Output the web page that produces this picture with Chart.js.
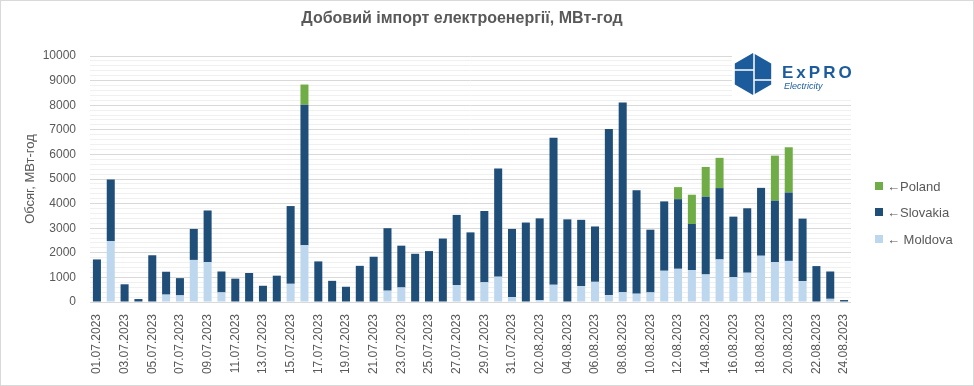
<!DOCTYPE html>
<html>
<head>
<meta charset="utf-8">
<script src="https://cdn.jsdelivr.net/npm/chart.js@4"></script>
<style>
    html, body { margin: 0; padding: 0; background: #fff; }
    #wrap { width: 972px; height: 384px; border: 1px solid #d9d9d9; position: relative; }
</style>
</head>
<body>
<div id="wrap"><canvas id="importChart"></canvas></div>
<script>
// --- DATA ---
const dates = [
    '01.07.2023', '02.07.2023', '03.07.2023', '04.07.2023', '05.07.2023', '06.07.2023', '07.07.2023',
    '08.07.2023', '09.07.2023', '10.07.2023', '11.07.2023', '12.07.2023', '13.07.2023', '14.07.2023',
    '15.07.2023', '16.07.2023', '17.07.2023', '18.07.2023', '19.07.2023', '20.07.2023', '21.07.2023',
    '22.07.2023', '23.07.2023', '24.07.2023', '25.07.2023', '26.07.2023', '27.07.2023', '28.07.2023',
    '29.07.2023', '30.07.2023', '31.07.2023', '01.08.2023', '02.08.2023', '03.08.2023', '04.08.2023',
    '05.08.2023', '06.08.2023', '07.08.2023', '08.08.2023', '09.08.2023', '10.08.2023', '11.08.2023',
    '12.08.2023', '13.08.2023', '14.08.2023', '15.08.2023', '16.08.2023', '17.08.2023', '18.08.2023',
    '19.08.2023', '20.08.2023', '21.08.2023', '22.08.2023', '23.08.2023', '24.08.2023'
];
const moldova = [
    0, 2480, 0, 0, 0, 300, 270, 1710, 1620, 390, 0, 0, 0, 0, 740, 2310, 0, 0, 0, 0, 0,
    460, 590, 0, 0, 0, 690, 50, 800, 1030, 200, 0, 70, 700, 0, 650, 820, 280, 400, 340,
    390, 1270, 1350, 1300, 1120, 1730, 1010, 1190, 1880, 1620, 1670, 850, 0, 130, 0
];
const slovakia = [
    1730, 2500, 720, 120, 1900, 930, 700, 1260, 2100, 850, 950, 1180, 660, 1070, 3160, 5710,
    1650, 860, 620, 1470, 1840, 2540, 1700, 1960, 2070, 2580, 2850, 2780, 2900, 4400, 2770,
    3230, 3330, 5980, 3360, 2690, 2250, 6750, 7710, 4200, 2550, 2820, 2830, 1870, 3160, 2900,
    2460, 2620, 2760, 2500, 2780, 2540, 1460, 1110, 80
];
const poland = [
    0, 0, 0, 0, 0, 0, 0, 0, 0, 0, 0, 0, 0, 0, 0, 820, 0, 0, 0, 0, 0, 0, 0, 0, 0, 0, 0, 0,
    0, 0, 0, 0, 0, 0, 0, 0, 0, 0, 0, 0, 0, 0, 490, 1190, 1210, 1230, 0, 0, 0, 1830, 1840,
    0, 0, 0, 0
];
const yTicks = [0, 1000, 2000, 3000, 4000, 5000, 6000, 7000, 8000, 9000, 10000];

const chartTitle = 'Добовий імпорт електроенергії, МВт-год';
const yTitle = 'Обсяг, МВт-год';
const legendLabels = ['←Poland', '←Slovakia', '← Moldova'];

const FONT = '"Liberation Sans", Arial, sans-serif';
const TEXT = '#595959';

// title, legend and logo drawn on the canvas
const overlayPlugin = {
    id: 'overlay',
    afterDraw(chart) {
        const ctx = chart.ctx;
        ctx.save();

        // title
        ctx.fillStyle = TEXT;
        ctx.font = 'bold 16px ' + FONT;
        ctx.textAlign = 'center';
        ctx.textBaseline = 'middle';
        ctx.fillText(chartTitle, 461, 18);

        // legend (top to bottom: Poland, Slovakia, Moldova)
        const items = [
            { text: legendLabels[0], color: chart.data.datasets[2].backgroundColor, y: 185 },
            { text: legendLabels[1], color: chart.data.datasets[1].backgroundColor, y: 211 },
            { text: legendLabels[2], color: chart.data.datasets[0].backgroundColor, y: 238 }
        ];
        ctx.font = '13px ' + FONT;
        ctx.textAlign = 'left';
        items.forEach(it => {
            ctx.fillStyle = it.color;
            ctx.fillRect(874, it.y - 4, 8, 8);
            ctx.fillStyle = TEXT;
            ctx.fillText(it.text, 886, it.y + 1);
        });

        // logo
        ctx.fillStyle = '#ffffff';
        ctx.fillRect(731, 51, 120, 46);
        const cx = 752, cy = 73, r = 21;
        ctx.beginPath();
        for (let i = 0; i < 6; i++) {
            const a = Math.PI / 2 + i * Math.PI / 3;
            const px = cx + r * Math.cos(a), py = cy - r * Math.sin(a);
            if (i === 0) ctx.moveTo(px, py); else ctx.lineTo(px, py);
        }
        ctx.closePath();
        ctx.fillStyle = '#1c5c9c';
        ctx.fill();
        ctx.strokeStyle = '#ffffff';
        ctx.lineWidth = 1.5;
        ctx.beginPath();
        ctx.moveTo(cx + 1, cy - r); ctx.lineTo(cx + 1, cy + r);
        ctx.moveTo(cx - 19, cy - 4); ctx.lineTo(cx + 1, cy - 4);
        ctx.moveTo(cx + 1, cy + 6); ctx.lineTo(cx + 19, cy + 6);
        ctx.stroke();

        ctx.fillStyle = '#1c5c9c';
        ctx.font = 'bold 17px ' + FONT;
        ctx.textBaseline = 'alphabetic';
        if ('letterSpacing' in ctx) ctx.letterSpacing = '3px';
        ctx.fillText('ExPRO', 781, 77);
        if ('letterSpacing' in ctx) ctx.letterSpacing = '0px';
        ctx.font = 'italic 9px ' + FONT;
        ctx.fillText('Electricity', 783, 88);

        ctx.restore();
    }
};

const ctxImport = document.getElementById('importChart').getContext('2d');
new Chart(ctxImport, {
    type: 'bar',
    data: {
        labels: dates,
        datasets: [
            { label: 'Moldova', data: moldova, backgroundColor: '#bdd7ee' },
            { label: 'Slovakia', data: slovakia, backgroundColor: '#1f4e79' },
            { label: 'Poland', data: poland, backgroundColor: '#70ad47' }
        ]
    },
    options: {
        responsive: true,
        maintainAspectRatio: false,
        animation: false,
        datasets: { bar: { categoryPercentage: 1, barPercentage: 0.58 } },
        layout: { padding: { top: 55, right: 122, bottom: 0, left: 18 } },
        plugins: {
            legend: { display: false },
            title: { display: false },
            tooltip: { enabled: false }
        },
        scales: {
            x: {
                stacked: true,
                grid: { display: false },
                border: { display: false },
                afterFit: (scale) => { scale.height = 83; },
                ticks: {
                    autoSkip: false,
                    maxRotation: 90,
                    minRotation: 90,
                    padding: 4,
                    color: TEXT,
                    font: { family: FONT, size: 12 },
                    callback: function (value, index) {
                        return index % 2 === 0 ? this.getLabelForValue(value) : '';
                    }
                }
            },
            y: {
                stacked: true,
                min: 0,
                max: 10000,
                border: { display: false },
                afterFit: (scale) => { scale.width = 71; },
                grid: {
                    drawTicks: false,
                    color: (c) => (yTicks.includes(c.tick.value) ? '#d9d9d9' : '#f0f0f0')
                },
                title: {
                    display: true,
                    text: yTitle,
                    color: TEXT,
                    font: { family: FONT, size: 13 }
                },
                ticks: {
                    stepSize: 200,
                    autoSkip: false,
                    padding: 14,
                    color: TEXT,
                    font: { family: FONT, size: 12 },
                    callback: (v) => (yTicks.includes(v) ? String(v) : '')
                }
            }
        }
    },
    plugins: [overlayPlugin]
});
</script>
</body>
</html>
